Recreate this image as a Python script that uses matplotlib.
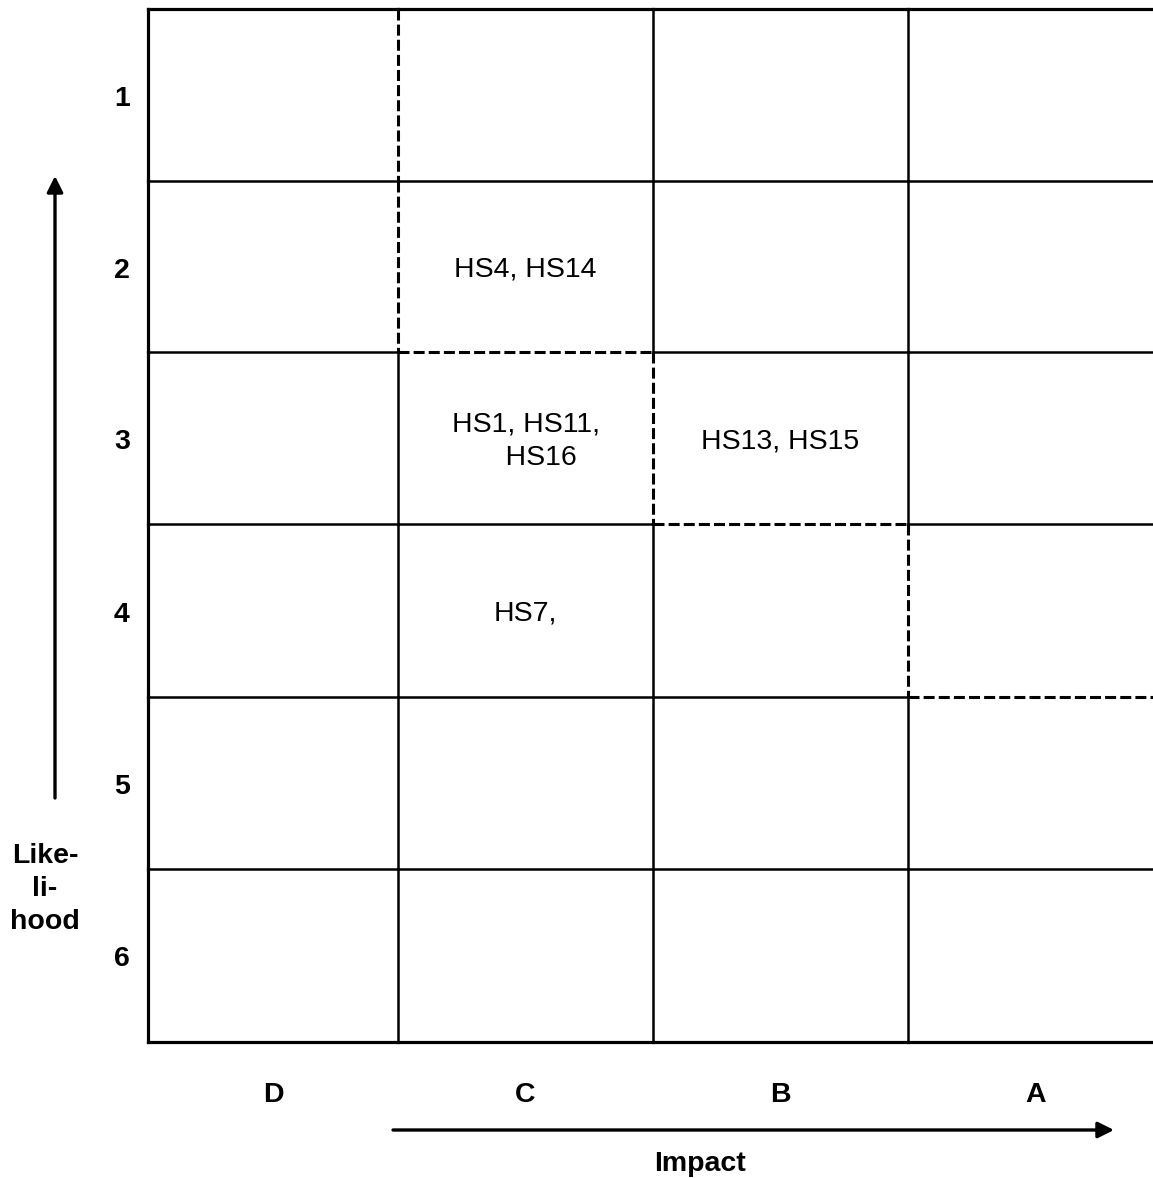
import matplotlib.pyplot as plt

plt.rcParams['font.family'] = ['Liberation Sans', 'DejaVu Sans']

# chart content
impact_labels = ['D', 'C', 'B', 'A']
likelihood_labels = ['1', '2', '3', '4', '5', '6']
# hazards placed in the matrix: (row index, column index, text)
cell_rows = [1, 2, 2, 3]
cell_cols = [1, 1, 2, 1]
cell_texts = ['HS4, HS14', 'HS1, HS11,\n    HS16', 'HS13, HS15', 'HS7,']
# number of rows above the dashed risk boundary, per column
boundary_rows = [0, 2, 3, 4]

W, H = 1153, 1178
fig = plt.figure(figsize=(W / 100, H / 100), dpi=100)
ax = fig.add_axes([0, 0, 1, 1])
ax.set_xlim(0, W)
ax.set_ylim(H, 0)
ax.axis('off')

col_edges = [148, 398, 653, 908, 1163]
row_edges = [9, 181, 352, 524, 697, 869, 1042]
lw_in = 1.8
lw_out = 2.3
lw_dash = 2.2
dash = (0, (3.6, 1.35))


def on_boundary_h(r, c):
    # horizontal edge at row r under column c is the dashed line
    return boundary_rows[c] == r and r > 0


def on_boundary_v(c, r):
    # vertical edge at column edge c, for row r
    if c == 0 or c >= len(boundary_rows):
        return False
    lo, hi = sorted((boundary_rows[c - 1], boundary_rows[c]))
    return lo <= r < hi


# horizontal lines
for r, y in enumerate(row_edges):
    for c in range(len(impact_labels)):
        x0, x1 = col_edges[c], col_edges[c + 1]
        if r == 0 or r == len(row_edges) - 1:
            ax.plot([x0, x1], [y, y], color='black', lw=lw_out, solid_capstyle='projecting')
        elif on_boundary_h(r, c):
            ax.plot([x0, x1], [y, y], color='black', lw=lw_dash, linestyle=dash)
        else:
            ax.plot([x0, x1], [y, y], color='black', lw=lw_in)

# vertical lines
for c, x in enumerate(col_edges[:-1]):
    for r in range(len(likelihood_labels)):
        y0, y1 = row_edges[r], row_edges[r + 1]
        if c == 0:
            ax.plot([x, x], [y0, y1], color='black', lw=lw_out, solid_capstyle='projecting')
        elif on_boundary_v(c, r):
            ax.plot([x, x], [y0, y1], color='black', lw=lw_dash, linestyle=dash)
        else:
            ax.plot([x, x], [y0, y1], color='black', lw=lw_in)

# cell contents
for r, c, t in zip(cell_rows, cell_cols, cell_texts):
    xc = (col_edges[c] + col_edges[c + 1]) / 2
    yc = (row_edges[r] + row_edges[r + 1]) / 2 + 3
    ax.text(xc, yc, t, ha='center', va='center', fontsize=20.5,
            multialignment='center', linespacing=1.38)

# axis labels
for r, lab in enumerate(likelihood_labels):
    yc = (row_edges[r] + row_edges[r + 1]) / 2 + 4
    ax.text(122, yc, lab, ha='center', va='center', fontsize=20.5, fontweight='bold')

for c, lab in enumerate(impact_labels):
    xc = (col_edges[c] + col_edges[c + 1]) / 2
    ax.text(xc, 1095, lab, ha='center', va='center', fontsize=20.5, fontweight='bold')

ax.text(45, 889, 'Like-\nli-\nhood', ha='center', va='center', fontsize=20.5,
        fontweight='bold', linespacing=1.34)
ax.text(700, 1164, 'Impact', ha='center', va='center', fontsize=20.5, fontweight='bold')

arrow = dict(arrowstyle='-|>', color='black', lw=2.4, mutation_scale=24, shrinkA=0, shrinkB=0)
ax.annotate('', xy=(55, 176), xytext=(55, 798), arrowprops=arrow)
ax.annotate('', xy=(1114, 1130), xytext=(393, 1130), arrowprops=arrow)

fig.savefig('out.png', dpi=100, facecolor='white')
